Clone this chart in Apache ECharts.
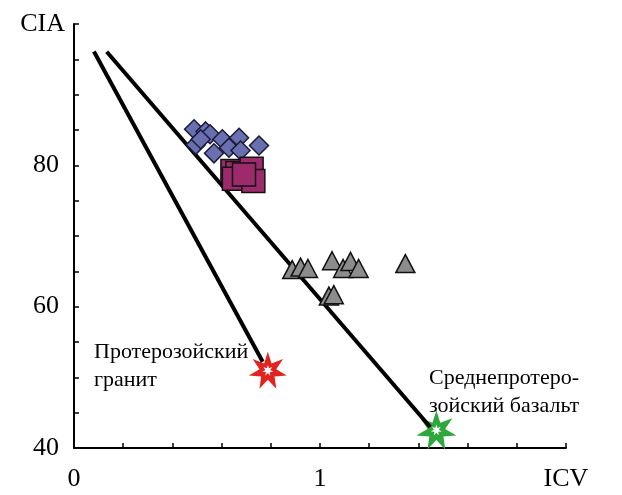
<!DOCTYPE html>
<html>
<head>
<meta charset="utf-8">
<script src="https://cdn.jsdelivr.net/npm/echarts@6/dist/echarts.min.js"></script>
<style>
html,body{margin:0;padding:0;background:#fff;}
#c{width:622px;height:495px;}
</style>
</head>
<body>
<div id="c"></div>
<script>
// ---- data ----
const xLabelValues = [0, 1, 2];
const xLabelTexts = ['0', '1', 'ICV'];
const yLabelValues = [40, 60, 80, 100];
const yLabelTexts = ['40', '60', '80', 'CIA'];

const diamonds = [
  [0.488, 85.1], [0.535, 84.8], [0.553, 84.4], [0.495, 82.9], [0.515, 83.7],
  [0.603, 83.7], [0.630, 82.5], [0.671, 83.9], [0.569, 81.7], [0.677, 82.1],
  [0.752, 82.8]
];
const squares = [
  [0.644, 79.2], [0.664, 78.9], [0.650, 78.1], [0.722, 79.5], [0.729, 77.8], [0.691, 78.7]
];
const triangles = [
  [0.887, 65.25], [0.921, 65.6], [0.951, 65.4], [1.049, 66.5], [1.094, 65.4],
  [1.124, 66.4], [1.157, 65.4], [1.347, 66.1], [1.036, 61.5], [1.056, 61.7]
];
const graniteLine = [[0.081, 96.1], [0.767, 52.2]];
const basaltLine = [[0.133, 96.07], [1.448, 42.98]];
const graniteStar = [[0.788, 51.0]];
const basaltStar = [[1.473, 42.55]];
const graniteLabel = ['Протерозойский', 'гранит'];
const basaltLabel = ['Среднепротеро-', 'зойский базальт'];

// ---- helpers ----
function starPath(n, R, r) {
  let d = '';
  for (let i = 0; i < 2 * n; i++) {
    const rad = (i % 2 === 0) ? R : r;
    const a = -Math.PI / 2 + i * Math.PI / n;
    const x = (50 + rad * Math.cos(a)).toFixed(2);
    const y = (50 + rad * Math.sin(a)).toFixed(2);
    d += (i === 0 ? 'M' : 'L') + x + ' ' + y + ' ';
  }
  return 'path://' + d + 'Z';
}
const star7 = starPath(7, 50, 22);
function pick(vals, texts, v) {
  const i = vals.findIndex(a => Math.abs(a - v) < 1e-6);
  return i >= 0 ? texts[i] : '';
}

const chart = echarts.init(document.getElementById('c'), null, {renderer: 'canvas'});
const serif = '"Liberation Serif", "DejaVu Serif", serif';

chart.setOption({
  backgroundColor: '#ffffff',
  animation: false,
  grid: {left: 74, right: 56, top: 24, bottom: 47, containLabel: false},
  xAxis: {
    type: 'value', min: 0, max: 2, interval: 0.2,
    axisLine: {show: true, onZero: false, lineStyle: {color: '#000', width: 2}},
    axisTick: {show: true, inside: true, length: 5, lineStyle: {color: '#000', width: 1.5}},
    splitLine: {show: false},
    axisLabel: {
      margin: 18, color: '#000', fontFamily: serif, fontSize: 26,
      showMinLabel: true, showMaxLabel: true, hideOverlap: false,
      formatter: v => pick(xLabelValues, xLabelTexts, v)
    }
  },
  yAxis: {
    type: 'value', min: 40, max: 100, interval: 5,
    axisLine: {show: true, onZero: false, lineStyle: {color: '#000', width: 2}},
    axisTick: {show: true, inside: true, length: 5, lineStyle: {color: '#000', width: 1.5}},
    splitLine: {show: false},
    axisLabel: {
      margin: 9, color: '#000', fontFamily: serif, fontSize: 26,
      showMinLabel: true, showMaxLabel: true, hideOverlap: false,
      formatter: v => {
        const t = pick(yLabelValues, yLabelTexts, v);
        if (!t) return '';
        return v === 100 ? '{c|' + t + '}' : '{n|' + t + '}';
      },
      rich: {
        n: {fontFamily: serif, fontSize: 26, color: '#000', padding: [0, 6, 0, 0]},
        c: {fontFamily: serif, fontSize: 26, color: '#000'}
      }
    }
  },
  series: [
    {type: 'scatter', data: graniteStar, symbol: star7, symbolKeepAspect: true, symbolSize: 38,
     itemStyle: {color: '#e2231f', opacity: 1}, z: 2},
    {type: 'scatter', data: basaltStar, symbol: star7, symbolKeepAspect: true, symbolSize: 40,
     itemStyle: {color: '#2ea83c', opacity: 1}, z: 2},
    {type: 'line', data: graniteLine, symbol: 'none', lineStyle: {color: '#000', width: 4}, z: 3},
    {type: 'line', data: basaltLine, symbol: 'none', lineStyle: {color: '#000', width: 4}, z: 3},
    {type: 'scatter', data: graniteStar, symbol: star7, symbolKeepAspect: true, symbolSize: 11,
     itemStyle: {color: '#ffffff', opacity: 1}, z: 4},
    {type: 'scatter', data: basaltStar, symbol: star7, symbolKeepAspect: true, symbolSize: 11,
     itemStyle: {color: '#ffffff', opacity: 1}, z: 4},
    {type: 'scatter', data: diamonds, symbol: 'diamond', symbolSize: 19,
     itemStyle: {color: '#6a6fb0', borderColor: '#1a1a3a', borderWidth: 1.5, opacity: 1}, z: 5},
    {type: 'scatter', data: squares, symbol: 'rect', symbolSize: 23,
     itemStyle: {color: '#9d2b6c', borderColor: '#111', borderWidth: 1.5, opacity: 1}, z: 6},
    {type: 'scatter', data: triangles, symbol: 'triangle', symbolSize: [19, 18],
     itemStyle: {color: '#8c8c8c', borderColor: '#111', borderWidth: 1.5, opacity: 1}, z: 5}
  ],
  graphic: [
    {type: 'text', left: 94, top: 338, z: 10,
     style: {text: graniteLabel.join('\n'), font: '22px ' + serif, fill: '#000', lineHeight: 28}},
    {type: 'text', left: 429, top: 364, z: 10,
     style: {text: basaltLabel.join('\n'), font: '22px ' + serif, fill: '#000', lineHeight: 28}}
  ]
});
</script>
</body>
</html>
